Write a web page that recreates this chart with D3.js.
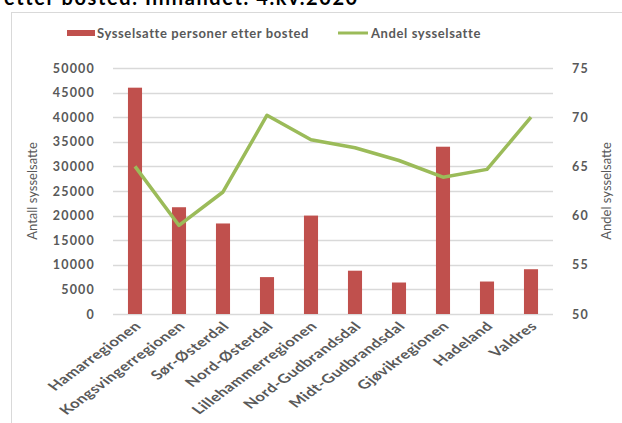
<!DOCTYPE html>
<html><head><meta charset="utf-8">
<script src="https://cdn.jsdelivr.net/npm/d3@7"></script>
<style>
body{margin:0;background:#fff;}
svg text{font-family:Lato,"Open Sans",sans-serif;}
</style></head>
<body><svg id="c" width="622" height="423"></svg>
<script>
const categories = ["Hamarregionen","Kongsvingerregionen","Sør-Østerdal","Nord-Østerdal","Lillehammerregionen","Nord-Gudbrandsdal","Midt-Gudbrandsdal","Gjøvikregionen","Hadeland","Valdres"];
const sysselsatte = [46000,21700,18400,7500,20000,8800,6400,34000,6600,9100];
const andel = [65.0,59.0,62.4,70.2,67.7,66.9,65.6,63.9,64.7,70.0];
const leftTicks = [0,5000,10000,15000,20000,25000,30000,35000,40000,45000,50000];
const rightTicks = [50,55,60,65,70,75];
const title = "etter bosted. Innlandet. 4.kv.2020";

const svg = d3.select("#c");
const m = {l:113, r:553, t:68, b:314};
const x = d3.scaleBand().domain(categories).range([m.l,m.r]).paddingInner(0.68).paddingOuter(0.34);
const y = d3.scaleLinear().domain([0,50000]).range([m.b,m.t]);
const y2 = d3.scaleLinear().domain([50,75]).range([m.b,m.t]);
const gray = "#595959";

// title (cut off at top, as in the source)
svg.append("text").attr("x",4).attr("y",5).attr("font-size",20).attr("font-weight","bold").attr("letter-spacing",1.6).attr("fill","#000").text(title);

// border
svg.append("rect").attr("x",11.5).attr("y",12.5).attr("width",640).attr("height",440).attr("fill","none").attr("stroke","#d9d9d9").attr("stroke-width",1);

// gridlines
svg.append("g").selectAll("line").data(leftTicks).join("line")
  .attr("x1",m.l).attr("x2",m.r).attr("y1",d=>Math.round(y(d))+0.5).attr("y2",d=>Math.round(y(d))+0.5)
  .attr("stroke","#d9d9d9").attr("stroke-width",1.3);

// left axis
const ga = svg.append("g").attr("transform",`translate(${m.l-18},0)`)
  .call(d3.axisLeft(y).tickValues(leftTicks).tickSize(0).tickPadding(0).tickFormat(d3.format("d")));
ga.select(".domain").remove();
ga.selectAll("text").attr("font-size",12.5).attr("font-weight","bold").attr("fill",gray).attr("letter-spacing",1.2).attr("font-family","Lato");

// right axis
const gr = svg.append("g").attr("transform",`translate(${m.r+19},0)`)
  .call(d3.axisRight(y2).tickValues(rightTicks).tickSize(0).tickPadding(0));
gr.select(".domain").remove();
gr.selectAll("text").attr("font-size",12.5).attr("font-weight","bold").attr("fill",gray).attr("letter-spacing",1.2).attr("font-family","Lato");

// bars
svg.append("g").selectAll("rect").data(categories).join("rect")
  .attr("x",d=>x(d)).attr("width",x.bandwidth())
  .attr("y",(d,i)=>y(sysselsatte[i])).attr("height",(d,i)=>y(0)-y(sysselsatte[i]))
  .attr("fill","#c0504d");

// line
const line = d3.line().x((d,i)=>x(categories[i])+x.bandwidth()/2).y(d=>y2(d));
svg.append("path").datum(andel).attr("d",line).attr("fill","none").attr("stroke","#9bbb59").attr("stroke-width",3.5).attr("stroke-linejoin","round");

// x labels (horizontally stretched like the source image)
const gx = svg.append("g").attr("transform",`translate(0,${m.b})`)
  .call(d3.axisBottom(x).tickSize(0).tickPadding(0));
gx.select(".domain").remove();
gx.selectAll("text").attr("font-size",12.5).attr("font-weight","bold").attr("fill",gray).attr("letter-spacing",0.4).attr("font-family","Lato")
  .attr("text-anchor","end").attr("dy",0).attr("y",0)
  .attr("transform","translate(7,13) scale(1.35,1) rotate(-45)");

// axis titles
svg.append("text").attr("transform","translate(37,191) rotate(-90)").attr("text-anchor","middle")
  .attr("font-size",13).attr("fill",gray).text("Antall sysselsatte");
svg.append("text").attr("transform","translate(611,191) rotate(-90)").attr("text-anchor","middle")
  .attr("font-size",13).attr("fill",gray).text("Andel sysselsatte");

// legend
const lg = svg.append("g");
lg.append("rect").attr("x",67).attr("y",30).attr("width",28).attr("height",6).attr("fill","#c0504d");
lg.append("text").attr("x",97).attr("y",37.5).attr("font-size",13).attr("font-weight","bold").attr("fill",gray).attr("letter-spacing",0.6).text("Sysselsatte personer etter bosted");
lg.append("line").attr("x1",338).attr("x2",368).attr("y1",33).attr("y2",33).attr("stroke","#9bbb59").attr("stroke-width",3);
lg.append("text").attr("x",371).attr("y",37.5).attr("font-size",13).attr("font-weight","bold").attr("fill",gray).attr("letter-spacing",0.6).text("Andel sysselsatte");
</script></body></html>
